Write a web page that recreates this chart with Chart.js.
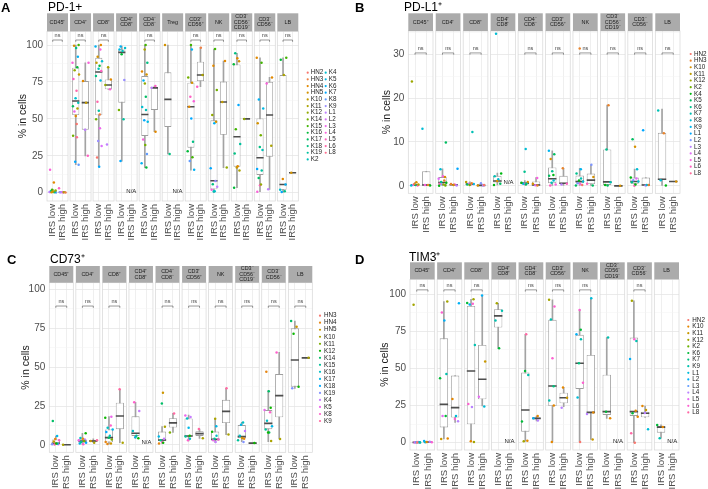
<!DOCTYPE html>
<html>
<head>
<meta charset="utf-8">
<script src="https://cdn.jsdelivr.net/npm/chart.js@4.4.1/dist/chart.umd.min.js"></script>
<style>
  body { margin: 0; background: #fff; width: 708px; height: 489px; position: relative; overflow: hidden; }
  canvas { position: absolute; }
</style>
</head>
<body>
<script>
// ---------- shared ----------
const GROUPS = ['IRS low', 'IRS high'];

// ---------- A: PD-1+ ----------
const A_FACETS = ['CD45⁺', 'CD4⁺', 'CD8⁺', 'CD4⁺\nCD8⁺', 'CD4⁻\nCD8⁻', 'Treg', 'CD3⁺\nCD56⁺', 'NK', 'CD3⁻\nCD56⁻\nCD19⁻', 'CD3⁻\nCD56⁻', 'LB'];
const A_PATIENTS = ['HN2', 'HN3', 'HN4', 'HN5', 'K10', 'K11', 'K12', 'K14', 'K15', 'K16', 'K17', 'K18', 'K19', 'K2',
  'K4', 'K5', 'K6', 'K7', 'K8', 'K9', 'L1', 'L2', 'L3', 'L4', 'L5', 'L6', 'L8'];
const A_YTICKS = [0, 25, 50, 75, 100];
// [min, q1, median, q3, max]
const A_LOW_BOX = [[0.2, 0.3, 0.6, 1.3, 2.3], [19, 52.6, 62.1, 84.7, 100], [17.6, 52.4, 81.7, 91.4, 100], [21.4, 61, 95, 97, 99.3],
  [17, 38.4, 53, 79, 100], [26.2, 44.5, 63.2, 81.5, 100], [15.3, 30.5, 58.2, 74.5, 100], [0, 2.3, 8.1, 49, 97.3],
  [3.4, 17.6, 37.9, 86.9, 94.4], [0.7, 12, 23.7, 50.3, 91.4], [0, 2, 5.6, 79.7, 91.4]];
const A_HIGH_BOX = [[0.2, 0.2, 0.3, 0.4, 0.5], [25, 42.7, 61, 75.6, 88], [70, 70, 72.9, 76.7, 85], null,
  [41.3, 56, 71, 71.6, 72.2], null, [71.8, 75.6, 79.7, 88.7, 98.2], [17, 39.2, 61.4, 75.3, 89.2],
  [50, 50, 50, 50, 50], [2.3, 24.4, 52.6, 75, 78.1], [13.5, 13.5, 13.5, 13.5, 13.5]];
const A_LOW_PTS = [
  [['L4', 15.5], ['HN4', 7], ['K15', 2], ['K12', 1.5], ['K2', 1.2], ['K10', 0.8], ['K5', 0.6], ['L1', 0.5], ['K18', 0.4], ['HN5', 0.3], ['K8', 0.2], ['L6', 0.5]],
  [['K15', 100], ['HN5', 99.5], ['K18', 98], ['K6', 92], ['L4', 88], ['K16', 85], ['K12', 83], ['K10', 80], ['L5', 77], ['L6', 69], ['K4', 64],
   ['K2', 61], ['K17', 58.5], ['K11', 57], ['L3', 55], ['HN4', 52], ['HN2', 46.5], ['K14', 38.6], ['L8', 37.5], ['K7', 21], ['K8', 19]],
  [['HN4', 100], ['K6', 99], ['L4', 97], ['HN5', 92], ['K4', 89], ['K10', 88], ['K16', 86], ['K2', 84], ['L5', 82.4], ['K18', 79], ['K5', 76],
   ['L6', 61.6], ['K19', 55.5], ['HN3', 53], ['K14', 49.7], ['L3', 43.6], ['K9', 35], ['L2', 31.6], ['HN2', 23.9], ['K7', 17.6]],
  [['K6', 99], ['K4', 98], ['K5', 97], ['K2', 96], ['K16', 93.7], ['K9', 76.3], ['K14', 56], ['K19', 49.7], ['K7', 21.4]],
  [['K15', 100], ['K11', 97], ['K18', 88], ['HN4', 82], ['HN5', 80], ['K6', 76], ['K12', 74], ['K17', 65], ['K4', 58], ['K2', 56], ['K7', 49],
   ['K5', 48], ['L4', 36], ['K14', 32.3], ['K8', 26.2], ['K6', 19.9], ['K16', 17]],
  [['HN5', 100], ['K18', 26.2]],
  [['K15', 100], ['K6', 97], ['K14', 78], ['HN5', 74.5], ['L5', 65], ['L4', 62], ['HN4', 58.2], ['K7', 50.3], ['K18', 34.5], ['K16', 28],
   ['K15', 24], ['K8', 21.5], ['K6', 15.5]],
  [['K15', 97.3], ['HN4', 86], ['K14', 69.5], ['K12', 52.6], ['K6', 47], ['HN5', 48], ['K7', 16.5], ['K9', 8], ['K18', 5.8], ['L1', 4],
   ['L4', 2], ['K4', 1], ['K2', 0.8]],
  [['K18', 94.4], ['HN4', 91], ['HN5', 89], ['K16', 87], ['K7', 59.4], ['K15', 42.9], ['K19', 33], ['K18', 26.6], ['HN4', 18], ['K10', 17],
   ['K11', 15], ['K16', 3.4]],
  [['HN4', 91.4], ['K15', 88], ['K6', 63.2], ['K5', 57.1], ['HN5', 47], ['K14', 39], ['K18', 31], ['K2', 29], ['K7', 16], ['K19', 15],
   ['K17', 10], ['L5', 5], ['K12', 5.5], ['L4', 0.7]],
  [['K15', 91.4], ['K16', 90], ['K11', 79.7], ['HN4', 9.3], ['K6', 5.6], ['K4', 2], ['K18', 1], ['K7', 0.5]]
];
const A_HIGH_PTS = [
  [['L5', 3], ['K11', 0.4], ['L2', 0.3], ['HN3', 0.2], ['K9', 0.3], ['L3', 0.2]],
  [['L4', 88], ['HN4', 75.6], ['K10', 61], ['L1', 42.7], ['L5', 25]],
  [['K11', 85], ['HN4', 76.7], ['K12', 73], ['L4', 70], ['L1', 32.7]],
  null,
  [['L5', 72.2], ['L1', 71], ['HN4', 41.3]],
  null,
  [['HN3', 98.2], ['K11', 79.7], ['L5', 71.8]],
  [['HN4', 89.2], ['K10', 61.4], ['K12', 17]],
  [['K12', 50]],
  [['HN4', 78.1], ['L4', 74], ['K11', 31.8], ['L1', 2.3]],
  [['HN5', 13.5]]
];

// ---------- B: PD-L1+ ----------
const B_FACETS = ['CD45⁺', 'CD4⁺', 'CD8⁺', 'CD4⁺\nCD8⁺', 'CD4⁻\nCD8⁻', 'CD3⁺\nCD56⁺', 'NK', 'CD3⁻\nCD56⁻\nCD19⁻', 'CD3⁻\nCD56⁻', 'LB'];
const B_PATIENTS = ['HN2', 'HN3', 'K10', 'K11', 'K12', 'K2', 'K4', 'K5', 'K6', 'K7', 'K8', 'K9', 'L1', 'L2', 'L3', 'L4', 'L5', 'L6', 'L8'];
const B_YTICKS = [0, 10, 20, 30];
const B_LOW_BOX = [[0, 0.1, 0.2, 0.35, 0.8], [0, 0.2, 0.75, 2, 3.9], [0.1, 0.2, 0.4, 0.6, 0.9], [0.2, 0.75, 1.1, 2.3, 2.9],
  [0.2, 0.3, 0.6, 0.9, 1.2], [0.1, 0.6, 1.6, 4.2, 8], [0.1, 0.6, 1, 2.35, 4], [0.1, 0.2, 0.9, 8.3, 18.4],
  [0, 0.45, 1, 1.9, 3.8], [0.1, 1.4, 1.5, 12.1, 17.5]];
const B_HIGH_BOX = [[0.1, 0.15, 0.2, 3.3, 3.3], [0.1, 0.15, 0.25, 0.4, 0.4], [0, 0.05, 0.1, 0.2, 0.4], null,
  [0.1, 0.15, 0.2, 1, 1.9], [0.1, 0.5, 0.6, 2.3, 4], [0.1, 0.4, 1.3, 2.8, 4.8], [0, 0, 0, 0, 0],
  [0.1, 0.15, 0.2, 1.9, 1.9], [1, 1, 1, 1, 1]];
const B_LOW_PTS = [
  [['K12', 23.8], ['K10', 0.8], ['HN3', 0.4], ['K11', 0.3], ['L4', 0.2], ['K5', 0.2], ['L6', 0.1], ['K8', 0.1]],
  [['K5', 9.9], ['K8', 3.8], ['L5', 2.2], ['K10', 2], ['L4', 1.6], ['HN3', 1.2], ['K6', 0.9], ['K4', 0.7], ['L6', 0.5], ['K12', 0.3],
   ['L2', 0.3], ['K2', 0.1], ['K4', 0]],
  [['K7', 12.3], ['K11', 0.9], ['HN3', 0.6], ['L4', 0.5], ['K9', 0.4], ['K5', 0.3], ['L6', 0.3], ['K2', 0.2]],
  [['K8', 34.7], ['K4', 2.8], ['K7', 2.2], ['K8', 1.5], ['K10', 1.1], ['K5', 0.5], ['K4', 0.2]],
  [['K8', 8.4], ['K6', 3.2], ['K10', 0.9], ['K4', 0.7], ['K7', 0.6], ['K9', 0.5], ['L6', 0.4], ['K5', 0.3]],
  [['K9', 8], ['K5', 7.2], ['K10', 6.1], ['K6', 3.3], ['K4', 2.5], ['K5', 2.3], ['K8', 1.2], ['K7', 0.7], ['L5', 0.3], ['L6', 0.1]],
  [['HN3', 31.3], ['K9', 3.8], ['K6', 2.8], ['K7', 1.7], ['K4', 1.2], ['K8', 1], ['L2', 0.6], ['L5', 0.4], ['HN2', 0.2], ['K5', 0.1]],
  [['HN3', 18.4], ['K6', 8.3], ['K7', 0.8], ['K4', 0.2], ['K5', 0.1]],
  [['K5', 10.6], ['K10', 8.9], ['K8', 3.8], ['K4', 1.9], ['L4', 1.7], ['L2', 1.3], ['K8', 1], ['K6', 0.8], ['K4', 0.3], ['L6', 0]],
  [['K7', 17.2], ['HN3', 12], ['K8', 1.3], ['K4', 0.1]]
];
const B_HIGH_PTS = [
  [['K8', 13], ['HN3', 0.2], ['L5', 0.2], ['K4', 0.1]],
  [['L1', 3.9], ['HN3', 0.4], ['L6', 0.3], ['K10', 0.2], ['L3', 0.1]],
  [['L2', 0.6], ['HN2', 0.2], ['K10', 0.1], ['L3', 0.05]],
  null,
  [['L5', 1.8], ['K10', 0.5], ['HN3', 0.1], ['L4', 0.15]],
  [['HN3', 4], ['L6', 0.5], ['L3', 0.3]],
  [['L2', 4.8], ['K10', 2], ['L6', 0.5], ['K5', 0.1]],
  [['K10', 0]],
  [['L1', 12.7], ['K8', 0.2], ['L3', 0.1], ['HN3', 0.2]],
  [['K10', 1]]
];

// ---------- C: CD73+ ----------
const C_FACETS = ['CD45⁺', 'CD4⁺', 'CD8⁺', 'CD4⁺\nCD8⁺', 'CD4⁻\nCD8⁻', 'CD3⁺\nCD56⁺', 'NK', 'CD3⁻\nCD56⁻\nCD19⁻', 'CD3⁻\nCD56⁻', 'LB'];
const C_PATIENTS = ['HN3', 'HN4', 'HN5', 'K10', 'K11', 'K12', 'K14', 'K15', 'K16', 'K17', 'K18', 'K19', 'K4', 'K5', 'K8', 'K9'];
const C_YTICKS = [0, 25, 50, 75, 100];
const C_LOW_BOX = [[0, 0.6, 1.1, 3.6, 5.8], [0.4, 1.5, 2.6, 3.9, 7.5], [0.6, 1.7, 4.7, 10, 18.2], [4.3, 5.8, 7.5, 18.4, 27.4],
  [1, 2.6, 3.2, 8.6, 11.8], [2.6, 5.4, 5.8, 17.1, 19.3], [1.7, 3.2, 3.6, 8.6, 17.1], [2.1, 4.3, 5.4, 12.8, 14.5],
  [2.1, 10.1, 13.9, 22.5, 34.9], [36.4, 37.5, 54.6, 75, 79.7]];
const C_HIGH_BOX = [[0.2, 0.2, 0.2, 0.2, 0.2], [1.5, 2.1, 2.6, 3.2, 3.9], [1.5, 10.1, 18.6, 27.2, 35.8], null,
  [8.1, 11.2, 14.2, 17.2, 20.3], [4.3, 5.8, 7.3, 8.8, 10.3], [6.7, 14.1, 21.6, 29, 36.4], [1.2, 1.2, 1.2, 1.2, 1.2],
  [3.9, 17.8, 31.7, 45.6, 59.5], [56, 56, 56, 56, 56]];
const C_LOW_PTS = [
  [['K14', 15.4], ['K17', 5.8], ['HN4', 3.8], ['K8', 3], ['HN5', 2.3], ['K12', 1], ['K5', 0.5], ['K19', 0.4], ['K16', 0.8], ['K9', 0.3]],
  [['K12', 7.5], ['K16', 4.5], ['HN4', 4], ['K4', 3.5], ['K5', 3], ['K11', 2.5], ['K15', 2], ['K18', 1.5], ['K17', 1], ['K8', 0.5]],
  [['K5', 18.2], ['K12', 17.5], ['K8', 12.6], ['K16', 11], ['K17', 10], ['K18', 8.3], ['K16', 6], ['K14', 4.7], ['K11', 3.5],
   ['HN4', 2], ['HN5', 1], ['HN4', 0.6]],
  [['K8', 27.4], ['K4', 21.8], ['K16', 9], ['K15', 6], ['K17', 5], ['K12', 4.3]],
  [['HN5', 33.6], ['K14', 26.6], ['K10', 11.8], ['K17', 5.5], ['K4', 4], ['K15', 3], ['K8', 2], ['K12', 1.5], ['HN4', 1]],
  [['K5', 19], ['K4', 18], ['K16', 17], ['K17', 11.1], ['K12', 6], ['K15', 5.5], ['K16', 4], ['K8', 3]],
  [['K10', 16.8], ['K17', 12], ['K12', 8.5], ['K16', 6], ['K15', 4], ['K8', 3.5], ['K5', 3], ['K4', 2]],
  [['K16', 14.5], ['K17', 13], ['K4', 9], ['K16', 6], ['HN5', 4.5], ['HN4', 4], ['K15', 3], ['K19', 2]],
  [['HN4', 47], ['K14', 34.5], ['K12', 24], ['K5', 22.5], ['K8', 21], ['K16', 15.5], ['K17', 12], ['K15', 10], ['K14', 8], ['K12', 8], ['K10', 2.5]],
  [['K14', 79.7], ['HN5', 76], ['K12', 71.5], ['K12', 37.5], ['K19', 36.4]]
];
const C_HIGH_PTS = [
  [['K10', 0.2]],
  [['K9', 3], ['HN5', 2.5], ['K10', 1.5]],
  [['K9', 35.8], ['K10', 1.5]],
  null,
  [['K9', 20.3], ['K11', 8.1]],
  [['K9', 10.3], ['K10', 4.3]],
  [['K9', 36.4], ['K10', 6.7]],
  [['K12', 1.2]],
  [['K8', 59.5], ['K10', 3.9]],
  [['K10', 56]]
];

// ---------- D: TIM3+ ----------
const D_FACETS = ['CD45⁺', 'CD4⁺', 'CD8⁺', 'CD4⁺\nCD8⁺', 'CD4⁻\nCD8⁻', 'CD3⁺\nCD56⁺', 'NK', 'CD3⁻\nCD56⁻\nCD19⁻', 'CD3⁻\nCD56⁻', 'LB'];
const D_PATIENTS = ['HN2', 'K10', 'K11', 'K12', 'K2', 'K6', 'K7', 'K9', 'L1', 'L2', 'L3', 'L4', 'L5', 'L6', 'L8'];
const D_YTICKS = [0, 25, 50, 75, 100];
const D_LOW_BOX = [[0, 0.1, 0.2, 0.4, 0.6], [2.5, 10.3, 25.8, 70.3, 95], [0.7, 12.4, 48.3, 92.1, 96.6], [63.6, 77.5, 85.4, 89.9, 93.9],
  [1.1, 7.4, 22, 47.2, 73], [0.7, 24.7, 38.2, 82.7, 96.2], [0.7, 36.2, 53.5, 72.6, 89.4], [16.4, 18.7, 20.9, 45.8, 70.8],
  [0, 18, 20.9, 70.8, 95.5], [3, 6.7, 10.5, 11.2, 12]];
const D_HIGH_BOX = [[0.3, 0.4, 0.5, 0.6, 0.8], [13.7, 16.9, 23.6, 45.2, 45.2], [24.7, 29.2, 42.7, 65.8, 99.1], null,
  [14.6, 16, 16.4, 16.9, 18], [24.3, 26.5, 30.3, 33.7, 37.1], [2.2, 19.8, 20.4, 59.1, 97.3], null,
  [17.1, 17.1, 19.8, 20.9, 24.7], null];
const D_LOW_PTS = [
  [['K12', 92.8], ['L6', 0.5], ['L3', 0.3], ['K9', 0.2], ['L5', 0.1], ['HN2', 0.2], ['L1', 0.4]],
  [['K12', 95], ['L6', 87.6], ['L2', 82.2], ['K9', 46.3], ['K6', 43.4], ['K6', 18], ['L5', 18], ['K10', 2.9], ['K11', 2.5]],
  [['K12', 96.6], ['K6', 94], ['L6', 93.5], ['L2', 93], ['K9', 65.8], ['L6', 26], ['L4', 24], ['K10', 1], ['K12', 0.5]],
  [['K12', 93.9], ['K9', 88.8], ['K9', 82.2], ['K6', 63.6]],
  [['L8', 73], ['K6', 48.3], ['K9', 45.5], ['K6', 14.2], ['K10', 1.3], ['K12', 1]],
  [['K12', 96.2], ['L6', 91.7], ['K9', 83], ['L6', 56.9], ['K7', 38], ['K9', 28.5], ['K10', 25], ['K10', 0.5]],
  [['L6', 89.4], ['K6', 76], ['L2', 73], ['K9', 69.7], ['K7', 53.5], ['L6', 40.4], ['L1', 30.5], ['HN2', 0.5]],
  [['K9', 70.8], ['K6', 20.9], ['K10', 16.4]],
  [['K12', 95.5], ['L6', 69.7], ['K9', 68.5], ['L2', 56.4], ['K10', 21.6], ['K6', 19.8], ['K10', 17.5], ['L8', 6.3], ['HN2', 0]],
  [['K6', 12], ['K10', 10.5], ['K9', 3]]
];
const D_HIGH_PTS = [
  [['L2', 1.2], ['L4', 0.6], ['K10', 0.5], ['L6', 0.3], ['L1', 0.4]],
  [['L2', 93.9], ['K10', 29.4], ['L1', 18], ['L6', 16], ['L4', 14.5]],
  [['L2', 99.1], ['K11', 54.6], ['L5', 31], ['L1', 24.3]],
  null,
  [['K10', 18], ['L2', 16.5], ['L4', 15]],
  [['K10', 37.1], ['K11', 30.3], ['L4', 23.6]],
  [['L1', 97.3], ['K10', 20.4], ['L4', 19.3], ['K11', 2.2]],
  null,
  [['K10', 24.7], ['K11', 22], ['L4', 20], ['L1', 9]],
  null
];

// ---------- layout / style ----------
const FONT = '"Liberation Sans", Arial, Helvetica, sans-serif';
const JITTER = [-0.28, 0.12, -0.06, 0.3, -0.18, 0.04, 0.22, -0.34, 0.16, -0.12, 0.34, -0.24, 0.08, -0.02, 0.26, -0.3, 0.18, -0.14, 0.0, 0.1];

const PANELS = [
  { letter: 'A', title: 'PD-1+', facets: A_FACETS, patients: A_PATIENTS, yTicks: A_YTICKS,
    lowBox: A_LOW_BOX, highBox: A_HIGH_BOX, lowPts: A_LOW_PTS, highPts: A_HIGH_PTS,
    box: { left: 0, top: 0, w: 354, h: 245 }, plot: { l: 47, r: 298.3, t: 31.3, b: 201 }, stripTop: 13.3,
    yRange: [-5.6, 109.3], gap: 0.213, ns: [103.4, 106.8], naY: 0.7,
    letterXY: [1, 8.5], titleXY: [48, 7.5], yTitleX: 23,
    legend: { x: 307.7, y: 72.7, dy: 6.67, perCol: 14, colW: 18, tx: 3 } },
  { letter: 'B', title: 'PD-L1⁺', facets: B_FACETS, patients: B_PATIENTS, yTicks: B_YTICKS,
    lowBox: B_LOW_BOX, highBox: B_HIGH_BOX, lowPts: B_LOW_PTS, highPts: B_HIGH_PTS,
    box: { left: 354, top: 0, w: 354, h: 245 }, plot: { l: 54.3, r: 326, t: 31, b: 193.3 }, stripTop: 13.3,
    yRange: [-1.7, 35.3], gap: 0.244, ns: [30.3, 31.4], naY: 0.75,
    letterXY: [1, 8.5], titleXY: [50, 7.5], yTitleX: 33,
    legend: { x: 336.7, y: 54, dy: 6.63, perCol: 19, colW: 18, tx: 3.3 } },
  { letter: 'C', title: 'CD73⁺', facets: C_FACETS, patients: C_PATIENTS, yTicks: C_YTICKS,
    lowBox: C_LOW_BOX, highBox: C_HIGH_BOX, lowPts: C_LOW_PTS, highPts: C_HIGH_PTS,
    box: { left: 0, top: 245, w: 354, h: 244 }, plot: { l: 49.3, r: 312.3, t: 37.7, b: 207.3 }, stripTop: 21,
    yRange: [-4.7, 104.3], gap: 0.236, ns: [89.3, 92], naY: 1.7,
    letterXY: [7, 15], titleXY: [50, 14.5], yTitleX: 26,
    legend: { x: 320, y: 70.7, dy: 7.02, perCol: 16, colW: 18, tx: 4 } },
  { letter: 'D', title: 'TIM3⁺', facets: D_FACETS, patients: D_PATIENTS, yTicks: D_YTICKS,
    lowBox: D_LOW_BOX, highBox: D_HIGH_BOX, lowPts: D_LOW_PTS, highPts: D_HIGH_PTS,
    box: { left: 354, top: 245, w: 354, h: 244 }, plot: { l: 56, r: 325, t: 34.3, b: 205 }, stripTop: 17.3,
    yRange: [-4.9, 110], gap: 0.217, ns: [102.9, 105.8], naY: 1.1,
    letterXY: [1, 15], titleXY: [55, 12.5], yTitleX: 31,
    legend: { x: 334.3, y: 75, dy: 6.6, perCol: 15, colW: 18, tx: 4 } }
];

// ggplot-style hue palette (HCL, c=100, l=65)
function hueColor(h) {
  const L = 65, C = 100, rad = h * Math.PI / 180;
  const u = C * Math.cos(rad), v = C * Math.sin(rad);
  const Xn = 95.047, Yn = 100, Zn = 108.883;
  const d = Xn + 15 * Yn + 3 * Zn;
  const un = 4 * Xn / d, vn = 9 * Yn / d;
  const Y = Yn * Math.pow((L + 16) / 116, 3);
  const up = u / (13 * L) + un, vp = v / (13 * L) + vn;
  const X = Y * 9 * up / (4 * vp), Z = Y * (12 - 3 * up - 20 * vp) / (4 * vp);
  const x = X / 100, y = Y / 100, z = Z / 100;
  const lin = [
    3.2404542 * x - 1.5371385 * y - 0.4985314 * z,
    -0.9692660 * x + 1.8760108 * y + 0.0415560 * z,
    0.0556434 * x - 0.2040259 * y + 1.0572252 * z
  ];
  return '#' + lin.map((c) => {
    c = c <= 0.0031308 ? 12.92 * c : 1.055 * Math.pow(c, 1 / 2.4) - 0.055;
    c = Math.round(Math.min(1, Math.max(0, c)) * 255);
    return c.toString(16).padStart(2, '0');
  }).join('');
}

// facet strips, gaps, brackets, titles, legend
const facetPlugin = {
  id: 'facets',
  beforeDatasetsDraw(chart, args, opts) {
    const p = opts.panel;
    const { ctx, chartArea: ca } = chart;
    const x = chart.scales.x;
    const P = 2.2 + p.gap;
    ctx.save();
    ctx.fillStyle = '#fff';
    for (let f = 0; f < p.facets.length - 1; f++) {
      const a = x.getPixelForValue(f * P + 2.2), b = x.getPixelForValue((f + 1) * P);
      ctx.fillRect(a, p.stripTop - 1, b - a, ca.bottom - p.stripTop + 2);
    }
    ctx.strokeStyle = '#d6d6d6';
    ctx.lineWidth = 0.7;
    for (let f = 0; f < p.facets.length; f++) {
      const a = x.getPixelForValue(f * P), b = x.getPixelForValue(f * P + 2.2);
      ctx.strokeRect(a, ca.top, b - a, ca.bottom - ca.top);
    }
    ctx.restore();
  },
  afterDatasetsDraw(chart, args, opts) {
    const p = opts.panel;
    const { ctx, chartArea: ca } = chart;
    const x = chart.scales.x, y = chart.scales.y;
    const P = 2.2 + p.gap;
    ctx.save();
    ctx.textAlign = 'center';
    ctx.textBaseline = 'middle';
    p.facets.forEach((label, f) => {
      const a = x.getPixelForValue(f * P), b = x.getPixelForValue(f * P + 2.2);
      ctx.fillStyle = '#ababab';
      ctx.fillRect(a, p.stripTop, b - a, ca.top - p.stripTop);
      const lines = label.split('\n');
      const lh = 5.4;
      const cy = (p.stripTop + ca.top) / 2 - (lines.length - 1) * lh / 2;
      ctx.fillStyle = '#1a1a1a';
      ctx.font = '5.4px ' + FONT;
      lines.forEach((t, i) => ctx.fillText(t, (a + b) / 2, cy + i * lh));

      const xl = x.getPixelForValue(f * P + 0.6), xh = x.getPixelForValue(f * P + 1.6);
      if (p.lowBox[f] && p.highBox[f]) {
        const yb = y.getPixelForValue(p.ns[0]);
        ctx.strokeStyle = '#555';
        ctx.lineWidth = 0.6;
        ctx.beginPath();
        ctx.moveTo(xl, yb + 1.8); ctx.lineTo(xl, yb); ctx.lineTo(xh, yb); ctx.lineTo(xh, yb + 1.8);
        ctx.stroke();
        ctx.fillStyle = '#444';
        ctx.font = '5.5px ' + FONT;
        ctx.fillText('ns', (xl + xh) / 2, y.getPixelForValue(p.ns[1]));
      }
      if (!p.highBox[f]) {
        ctx.fillStyle = '#222';
        ctx.font = '6px ' + FONT;
        ctx.fillText('N/A', xh, y.getPixelForValue(p.naY));
      }
    });

    // panel letter and title
    ctx.textAlign = 'left';
    ctx.fillStyle = '#000';
    ctx.font = 'bold 13px ' + FONT;
    ctx.fillText(p.letter, p.letterXY[0], p.letterXY[1]);
    ctx.font = '12px ' + FONT;
    ctx.fillText(p.title, p.titleXY[0], p.titleXY[1]);

    // legend
    const lg = p.legend;
    ctx.font = '6.3px ' + FONT;
    p.patients.forEach((name, i) => {
      const col = Math.floor(i / lg.perCol), row = i % lg.perCol;
      const cx = lg.x + col * lg.colW, cy = lg.y + row * lg.dy;
      ctx.fillStyle = opts.colors[i];
      ctx.beginPath();
      ctx.arc(cx, cy, 1.1, 0, Math.PI * 2);
      ctx.fill();
      ctx.fillStyle = '#222';
      ctx.fillText(name, cx + lg.tx, cy);
    });
    ctx.restore();
  }
};

function halfBox(chart) {
  const x = chart.scales.x;
  return 0.375 * (x.getPixelForValue(1) - x.getPixelForValue(0));
}

function buildPanel(p) {
  const canvas = document.createElement('canvas');
  canvas.width = p.box.w;
  canvas.height = p.box.h;
  canvas.style.left = p.box.left + 'px';
  canvas.style.top = p.box.top + 'px';
  canvas.style.width = p.box.w + 'px';
  canvas.style.height = p.box.h + 'px';
  document.body.appendChild(canvas);

  const nF = p.facets.length;
  const P = 2.2 + p.gap;
  const pos = (f, g) => f * P + 0.6 + g;
  const xMax = nF * 2.2 + (nF - 1) * p.gap;
  const xTicks = [];
  for (let f = 0; f < nF; f++) xTicks.push(pos(f, 0), pos(f, 1));

  const colors = p.patients.map((_, i) => hueColor(15 + 360 * i / p.patients.length));

  const boxData = [], whiskData = [], medData = [];
  [p.lowBox, p.highBox].forEach((arr, g) => arr.forEach((b, f) => {
    if (!b) return;
    const xv = pos(f, g);
    whiskData.push({ x: xv, y: [b[0], b[4]] });
    boxData.push({ x: xv, y: [b[1], b[3]] });
    medData.push({ x: xv, y: b[2] });
  }));

  const ptsByPatient = p.patients.map(() => []);
  [p.lowPts, p.highPts].forEach((arr, g) => arr.forEach((list, f) => {
    (list || []).forEach(([name, v], k) => {
      const i = p.patients.indexOf(name);
      if (i < 0) return;
      ptsByPatient[i].push({ x: pos(f, g) + JITTER[(k + f * 3 + g * 7) % JITTER.length], y: v });
    });
  }));

  const minors = [];
  for (let i = 0; i < p.yTicks.length; i++) {
    const step = p.yTicks[1] - p.yTicks[0];
    const m = p.yTicks[i] + step / 2;
    if (m < p.yRange[1]) minors.push(m);
  }
  const yAll = p.yTicks.concat(minors).sort((a, b) => a - b);
  const isMajor = (v) => p.yTicks.includes(v);
  const padLeft = p.yTitleX - 6;

  const datasets = [
    ...p.patients.map((name, i) => ({
      type: 'scatter', label: name, data: ptsByPatient[i],
      pointRadius: 1.25, pointBackgroundColor: colors[i], pointBorderWidth: 0, order: 0
    })),
    {
      type: 'scatter', label: 'median', data: medData, pointStyle: 'line',
      pointRadius: (c) => halfBox(c.chart), pointBorderColor: '#4d4d4d', pointBorderWidth: 1.6, order: 1
    },
    {
      type: 'bar', label: 'box', data: boxData, backgroundColor: '#fff', borderColor: '#9e9e9e',
      borderWidth: 0.9, borderSkipped: false, grouped: false, barPercentage: 0.75, categoryPercentage: 1, order: 2
    },
    {
      type: 'bar', label: 'whisker', data: whiskData, backgroundColor: '#a3a3a3', borderWidth: 0,
      grouped: false, maxBarThickness: 1, barPercentage: 1, categoryPercentage: 1, order: 3
    }
  ];

  new Chart(canvas, {
    type: 'scatter',
    data: { datasets },
    options: {
      responsive: false,
      animation: false,
      events: [],
      layout: { padding: { left: padLeft, right: p.box.w - p.plot.r, top: p.plot.t, bottom: 0 } },
      plugins: {
        legend: { display: false },
        tooltip: { enabled: false },
        facets: { panel: p, colors }
      },
      scales: {
        x: {
          type: 'linear', min: 0, max: xMax, offset: false, bounds: 'data',
          afterBuildTicks: (s) => { s.ticks = xTicks.map((v) => ({ value: v })); },
          afterFit: (s) => { s.height = p.box.h - p.plot.b; },
          grid: { color: '#ebebeb', lineWidth: 0.8, drawTicks: false, offset: false },
          border: { display: false },
          ticks: {
            autoSkip: false, minRotation: 90, maxRotation: 90, padding: 3, color: '#4d4d4d',
            font: { size: 9.5, family: FONT },
            callback: (v, i) => GROUPS[i % 2]
          }
        },
        y: {
          type: 'linear', min: p.yRange[0], max: p.yRange[1], bounds: 'data',
          afterBuildTicks: (s) => { s.ticks = yAll.map((v) => ({ value: v })); },
          afterFit: (s) => { s.width = p.plot.l - padLeft; },
          grid: {
            color: (c) => (c.tick && isMajor(c.tick.value) ? '#e6e6e6' : '#f3f3f3'),
            lineWidth: (c) => (c.tick && isMajor(c.tick.value) ? 0.8 : 0.5),
            drawTicks: false
          },
          border: { display: false },
          ticks: {
            padding: 4, color: '#4d4d4d', font: { size: 10, family: FONT },
            callback: (v) => (isMajor(v) ? String(v) : '')
          },
          title: { display: true, text: '% in cells', color: '#1a1a1a', font: { size: 10.5, family: FONT }, padding: 0 }
        }
      }
    },
    plugins: [facetPlugin]
  });
}

PANELS.forEach(buildPanel);
</script>
</body>
</html>
